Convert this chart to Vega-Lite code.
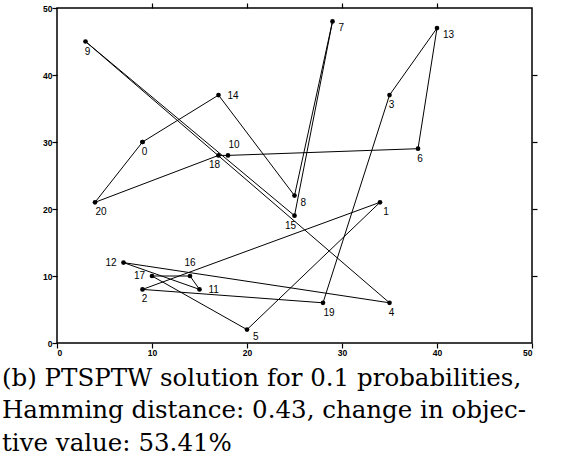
{
  "$schema": "https://vega.github.io/schema/vega-lite/v6.json",
  "width": 475,
  "height": 335,
  "autosize": {"type": "none"},
  "padding": {"left": 57, "top": 8, "right": 30, "bottom": 124},
  "background": "white",
  "config": {
    "view": {"stroke": "black", "strokeWidth": 1.5},
    "axis": {
      "grid": false, "domain": false, "ticks": true, "tickColor": "black", "tickOpacity": 1, "tickSize": 5, "tickWidth": 1.2,
      "labelFont": "Liberation Sans", "labelFontWeight": "bold", "labelFontSize": 8.5, "labelColor": "black",
      "titleFontSize": 0
    }
  },
  "title": {
    "text": ["(b) PTSPTW solution for 0.1 probabilities,", "Hamming distance: 0.43, change in objec-", "tive value: 53.41%"],
    "orient": "bottom", "anchor": "start", "frame": "group", "dx": -55, "offset": 10,
    "font": "DejaVu Serif", "fontSize": 24.5, "fontWeight": "normal", "lineHeight": 32.5, "color": "black"
  },
  "data": {"values": [
    {"seq": 0, "id": 0, "x": 9, "y": 30},
    {"seq": 1, "id": 14, "x": 17, "y": 37},
    {"seq": 2, "id": 8, "x": 25, "y": 22},
    {"seq": 3, "id": 7, "x": 29, "y": 48},
    {"seq": 4, "id": 15, "x": 25, "y": 19},
    {"seq": 5, "id": 9, "x": 3, "y": 45},
    {"seq": 6, "id": 4, "x": 35, "y": 6},
    {"seq": 7, "id": 12, "x": 7, "y": 12},
    {"seq": 8, "id": 11, "x": 15, "y": 8},
    {"seq": 9, "id": 16, "x": 14, "y": 10},
    {"seq": 10, "id": 17, "x": 10, "y": 10},
    {"seq": 11, "id": 5, "x": 20, "y": 2},
    {"seq": 12, "id": 1, "x": 34, "y": 21},
    {"seq": 13, "id": 2, "x": 9, "y": 8},
    {"seq": 14, "id": 19, "x": 28, "y": 6},
    {"seq": 15, "id": 3, "x": 35, "y": 37},
    {"seq": 16, "id": 13, "x": 40, "y": 47},
    {"seq": 17, "id": 6, "x": 38, "y": 29},
    {"seq": 18, "id": 10, "x": 18, "y": 28},
    {"seq": 19, "id": 18, "x": 17, "y": 28},
    {"seq": 20, "id": 20, "x": 4, "y": 21},
    {"seq": 21, "id": 0, "x": 9, "y": 30}
  ]},
  "encoding": {
    "x": {"field": "x", "type": "quantitative", "scale": {"domain": [0, 50], "nice": false, "zero": false}, "axis": null},
    "y": {"field": "y", "type": "quantitative", "scale": {"domain": [0, 50], "nice": false, "zero": false}, "axis": null}
  },
  "layer": [
    {
      "mark": {"type": "line", "color": "black", "strokeWidth": 1, "interpolate": "linear"},
      "encoding": {
        "order": {"field": "seq", "type": "quantitative"},
        "x": {"field": "x", "type": "quantitative", "scale": {"domain": [0, 50], "nice": false, "zero": false}, "axis": {"orient": "bottom", "values": [0, 10, 20, 30, 40, 50], "labelPadding": 0, "title": null}},
        "y": {"field": "y", "type": "quantitative", "scale": {"domain": [0, 50], "nice": false, "zero": false}, "axis": {"orient": "left", "values": [0, 10, 20, 30, 40, 50], "labelPadding": 0, "title": null}}
      }
    },
    {
      "mark": {"type": "circle", "color": "black", "size": 22, "opacity": 1},
      "encoding": {
        "x": {"field": "x", "type": "quantitative", "scale": {"domain": [0, 50], "nice": false, "zero": false}, "axis": {"orient": "top", "values": [10, 20, 30, 40], "labels": false, "title": null}},
        "y": {"field": "y", "type": "quantitative", "scale": {"domain": [0, 50], "nice": false, "zero": false}, "axis": {"orient": "right", "values": [10, 20, 30, 40], "labels": false, "title": null}}
      }
    },
    {
      "transform": [{"filter": {"field": "id", "oneOf": [9, 0, 3, 6, 4, 2]}}, {"filter": "datum.seq < 21"}],
      "mark": {"type": "text", "font": "Liberation Sans", "fontSize": 10, "color": "black", "dx": 2, "dy": 10, "align": "center", "baseline": "middle"},
      "encoding": {"text": {"field": "id", "type": "nominal"}}
    },
    {
      "transform": [{"filter": {"field": "id", "oneOf": [20, 19, 1]}}],
      "mark": {"type": "text", "font": "Liberation Sans", "fontSize": 10, "color": "black", "dx": 6, "dy": 10, "align": "center", "baseline": "middle"},
      "encoding": {"text": {"field": "id", "type": "nominal"}}
    },
    {
      "transform": [{"filter": {"field": "id", "oneOf": [7, 13, 8, 5]}}],
      "mark": {"type": "text", "font": "Liberation Sans", "fontSize": 10, "color": "black", "dx": 6, "dy": 7, "align": "left", "baseline": "middle"},
      "encoding": {"text": {"field": "id", "type": "nominal"}}
    },
    {
      "transform": [{"filter": {"field": "id", "oneOf": [14, 11]}}],
      "mark": {"type": "text", "font": "Liberation Sans", "fontSize": 10, "color": "black", "dx": 9, "dy": 1, "align": "left", "baseline": "middle"},
      "encoding": {"text": {"field": "id", "type": "nominal"}}
    },
    {
      "transform": [{"filter": {"field": "id", "oneOf": [10]}}],
      "mark": {"type": "text", "font": "Liberation Sans", "fontSize": 10, "color": "black", "dx": 6, "dy": -10, "align": "center", "baseline": "middle"},
      "encoding": {"text": {"field": "id", "type": "nominal"}}
    },
    {
      "transform": [{"filter": {"field": "id", "oneOf": [18, 15]}}],
      "mark": {"type": "text", "font": "Liberation Sans", "fontSize": 10, "color": "black", "dx": -4, "dy": 10, "align": "center", "baseline": "middle"},
      "encoding": {"text": {"field": "id", "type": "nominal"}}
    },
    {
      "transform": [{"filter": {"field": "id", "oneOf": [12, 17]}}],
      "mark": {"type": "text", "font": "Liberation Sans", "fontSize": 10, "color": "black", "dx": -7, "dy": 0, "align": "right", "baseline": "middle"},
      "encoding": {"text": {"field": "id", "type": "nominal"}}
    },
    {
      "transform": [{"filter": {"field": "id", "oneOf": [16]}}],
      "mark": {"type": "text", "font": "Liberation Sans", "fontSize": 10, "color": "black", "dx": 0, "dy": -13, "align": "center", "baseline": "middle"},
      "encoding": {"text": {"field": "id", "type": "nominal"}}
    }
  ],
  "resolve": {"axis": {"x": "independent", "y": "independent"}}
}
